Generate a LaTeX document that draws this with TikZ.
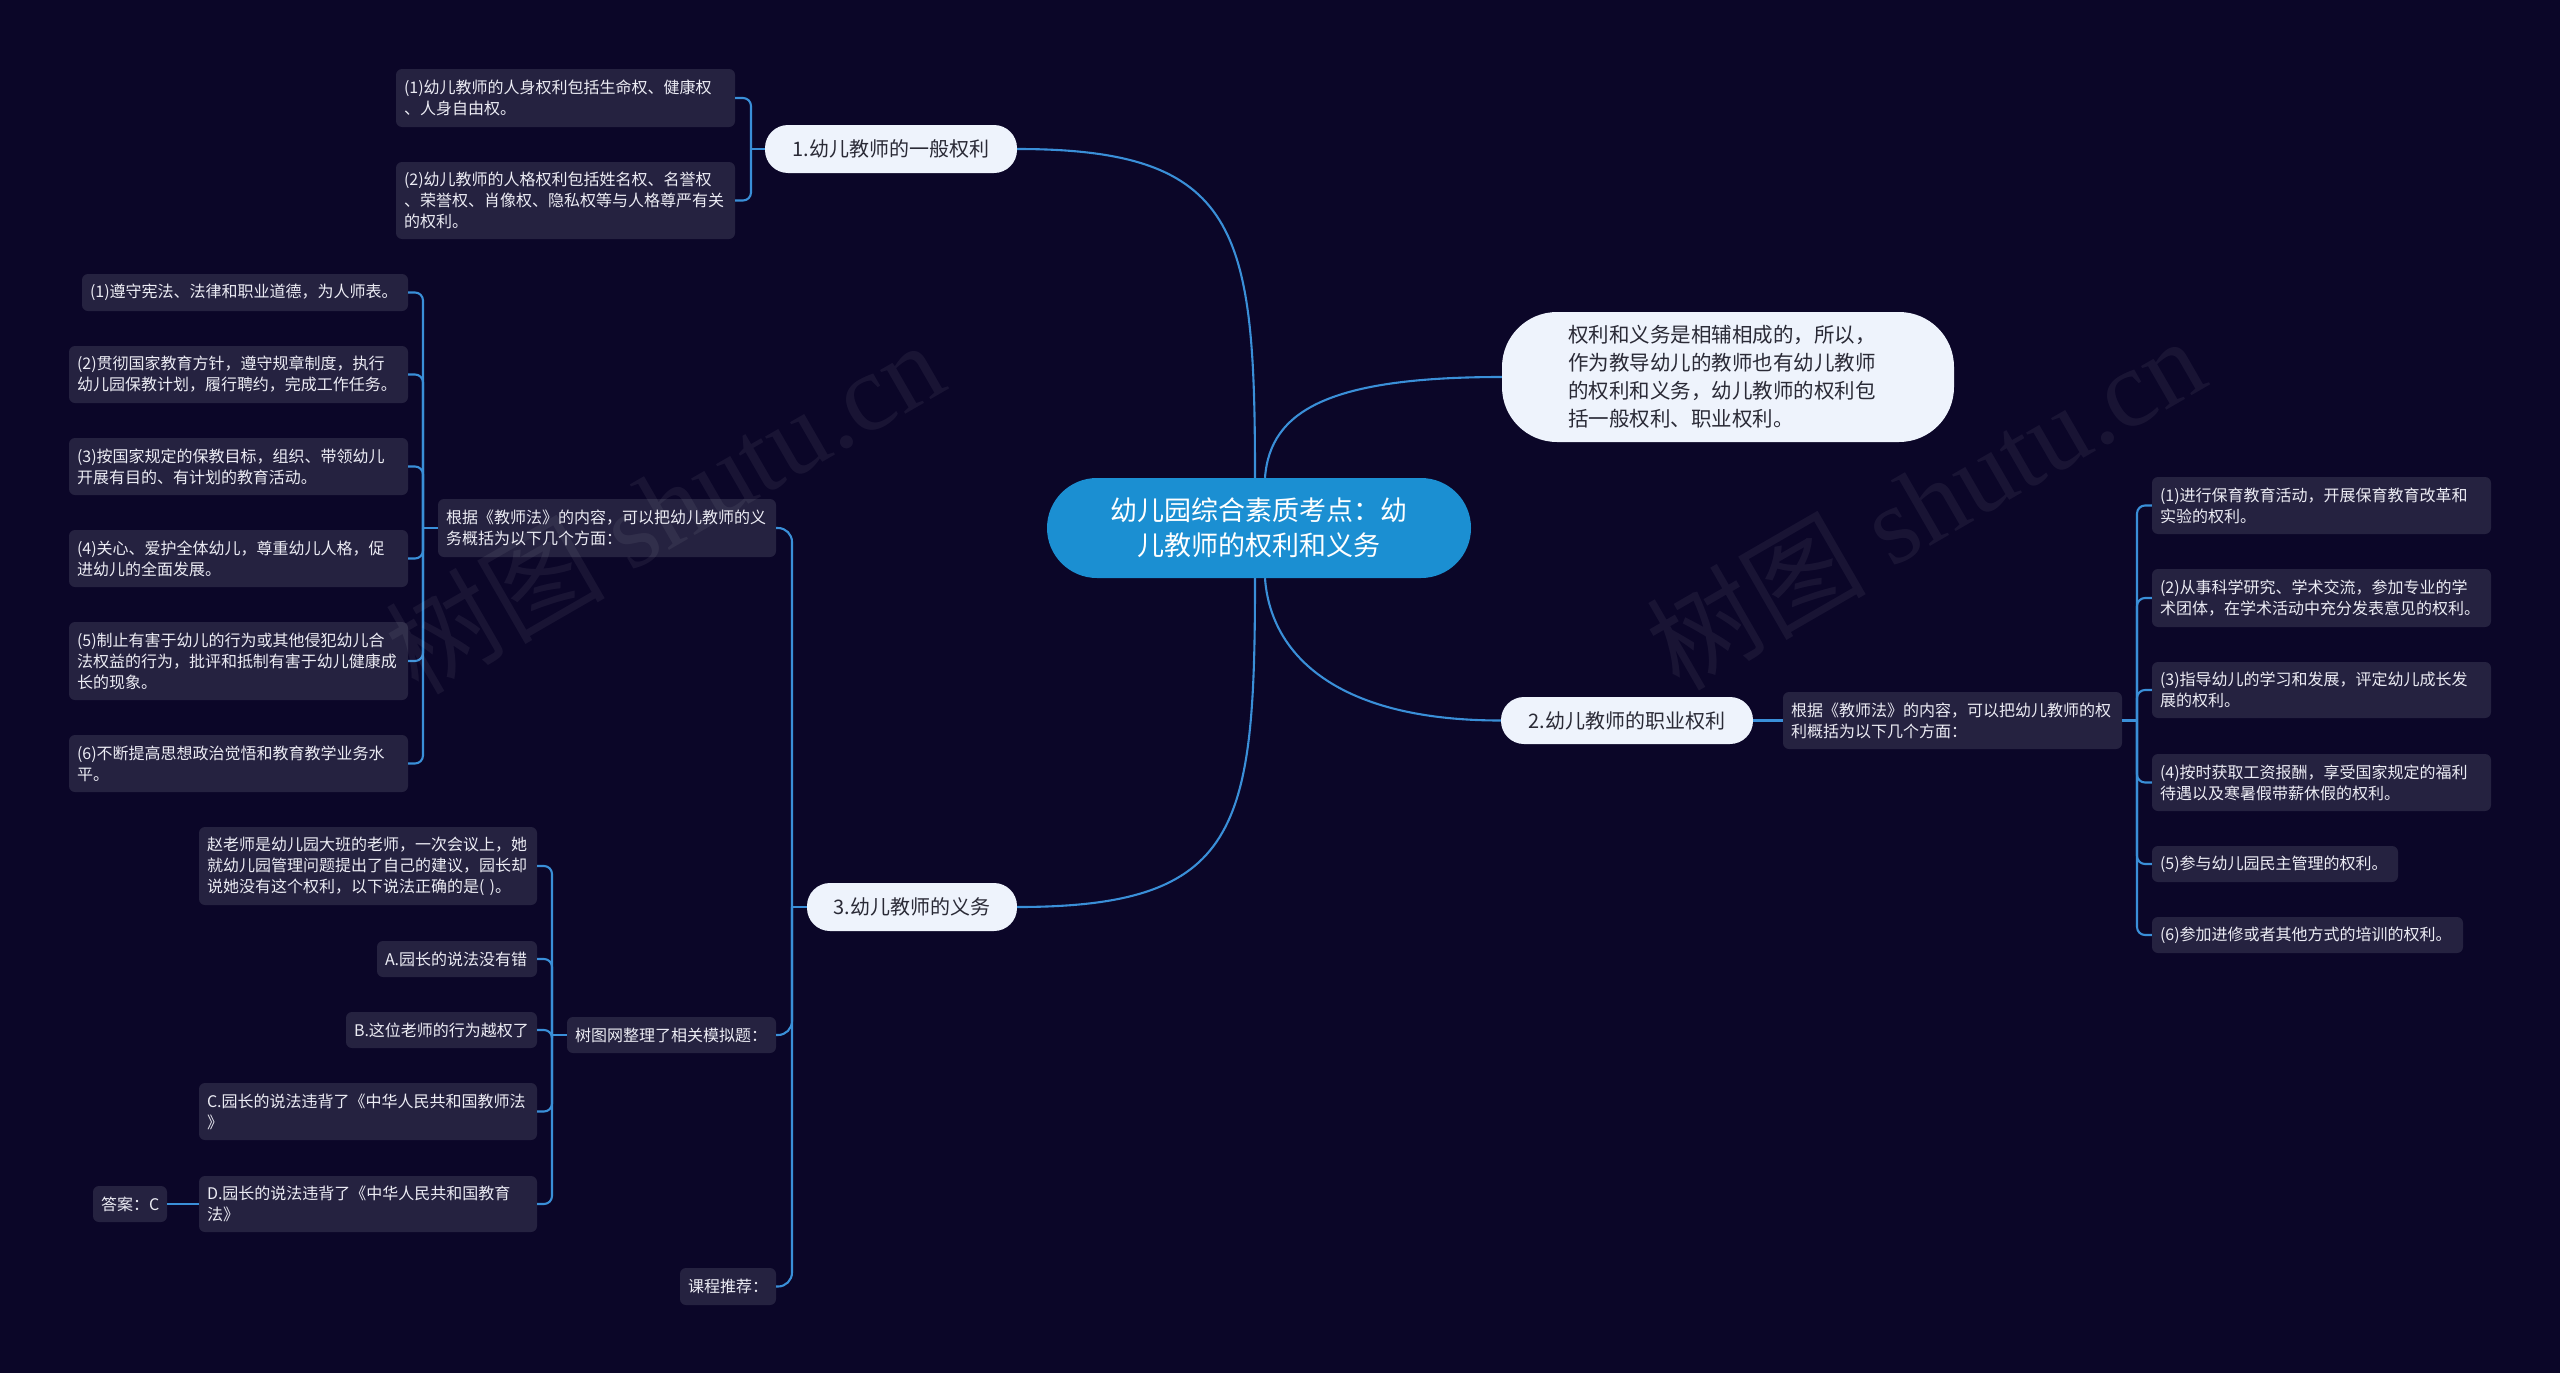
\documentclass[tikz,border=0pt]{standalone}
\usepackage{fontspec}
\setmainfont{Noto Sans CJK SC}
\newfontfamily\wmlatin{Liberation Serif}
\definecolor{bgc}{HTML}{0B0628}
\definecolor{leafc}{HTML}{252240}
\definecolor{linec}{HTML}{3A8FD8}
\definecolor{mainc}{HTML}{EEF3FC}
\definecolor{rootc}{HTML}{1B8FD2}
\definecolor{darktext}{HTML}{2A2A36}
\definecolor{leaftext}{HTML}{ECECF4}
\begin{document}
\begin{tikzpicture}[x=1pt,y=-1pt,
  leaf/.style={fill=leafc, rounded corners=6pt, text=leaftext, font=\fontsize{16}{21}\selectfont, align=left, inner xsep=8pt, inner ysep=0pt},
  lf/.style 2 args={leaf, text width=#1, minimum height=#2},
  mainnode/.style={fill=mainc, rounded corners=23pt, text=darktext, font=\fontsize{20}{26}\selectfont, align=center, inner sep=0pt},
  conn/.style={draw=linec, line width=2.1pt},
  bracelink/.style={conn, rounded corners=8pt},
  bigbrace/.style={conn, rounded corners=14pt},
  wmark/.style={rotate=30, text=white, text opacity=0.06, font=\fontsize{110}{110}\selectfont, inner sep=0pt}]
\fill[bgc] (0,0) rectangle (2560,1373);
\useasboundingbox (0,0) rectangle (2560,1373);

% root and first-level nodes
\node[fill=rootc, rounded corners=50pt, text=white, font=\fontsize{27}{35}\selectfont, align=center, minimum width=424pt, minimum height=100pt, inner sep=0pt] (root) at (1259,528) {幼儿园综合素质考点：幼\\儿教师的权利和义务};
\node[mainnode, minimum width=252pt, minimum height=48pt] (N1) at (891,149) {1.幼儿教师的一般权利};
\node[mainnode, minimum width=252pt, minimum height=47pt] (N2) at (1627,720.5) {2.幼儿教师的职业权利};
\node[mainnode, minimum width=210pt, minimum height=48pt] (N3) at (912,907) {3.幼儿教师的义务};
\node[fill=mainc, rounded corners=55pt, text=darktext, font=\fontsize{20.5}{28}\selectfont, align=left, text width=320pt, minimum width=452pt, minimum height=130pt, inner xsep=66pt, inner ysep=0pt] (desc) at (1728,377) {权利和义务是相辅相成的，所以，\\作为教导幼儿的教师也有幼儿教师\\的权利和义务，幼儿教师的权利包\\括一般权利、职业权利。};

% branch 1
\node[lf={323pt}{58pt}] (g1) at (565.5,98) {(1)幼儿教师的人身权利包括生命权、健康权\\、人身自由权。};
\node[lf={323pt}{77pt}] (g2) at (565.5,200.5) {(2)幼儿教师的人格权利包括姓名权、名誉权\\、荣誉权、肖像权、隐私权等与人格尊严有关\\的权利。};

% branch 2
\node[lf={323pt}{57pt}] (Phead) at (1952.5,720.5) {根据《教师法》的内容，可以把幼儿教师的权\\利概括为以下几个方面：};
\node[lf={323pt}{57pt}] (p1) at (2321.5,505.5) {(1)进行保育教育活动，开展保育教育改革和\\实验的权利。};
\node[lf={323pt}{58pt}] (p2) at (2321.5,598) {(2)从事科学研究、学术交流，参加专业的学\\术团体，在学术活动中充分发表意见的权利。};
\node[lf={323pt}{56pt}] (p3) at (2321.5,690) {(3)指导幼儿的学习和发展，评定幼儿成长发\\展的权利。};
\node[lf={323pt}{57pt}] (p4) at (2321.5,782.5) {(4)按时获取工资报酬，享受国家规定的福利\\待遇以及寒暑假带薪休假的权利。};
\node[lf={230pt}{36pt}] (p5) at (2275,864) {(5)参与幼儿园民主管理的权利。};
\node[lf={295pt}{36pt}] (p6) at (2307.5,935) {(6)参加进修或者其他方式的培训的权利。};

% branch 3
\node[lf={322pt}{58pt}] (Dhead) at (607,528) {根据《教师法》的内容，可以把幼儿教师的义\\务概括为以下几个方面：};
\node[lf={310pt}{37pt}] (d1) at (245,292.5) {(1)遵守宪法、法律和职业道德，为人师表。};
\node[lf={323pt}{57pt}] (d2) at (238.5,374.5) {(2)贯彻国家教育方针，遵守规章制度，执行\\幼儿园保教计划，履行聘约，完成工作任务。};
\node[lf={323pt}{57pt}] (d3) at (238.5,466.5) {(3)按国家规定的保教目标，组织、带领幼儿\\开展有目的、有计划的教育活动。};
\node[lf={323pt}{57pt}] (d4) at (238.5,558.5) {(4)关心、爱护全体幼儿，尊重幼儿人格，促\\进幼儿的全面发展。};
\node[lf={323pt}{78pt}] (d5) at (238.5,661) {(5)制止有害于幼儿的行为或其他侵犯幼儿合\\法权益的行为，批评和抵制有害于幼儿健康成\\长的现象。};
\node[lf={323pt}{57pt}] (d6) at (238.5,763.5) {(6)不断提高思想政治觉悟和教育教学业务水\\平。};

\node[lf={193pt}{36pt}] (Qhead) at (671.5,1035) {树图网整理了相关模拟题：};
\node[lf={322pt}{78pt}] (q0) at (368,866) {赵老师是幼儿园大班的老师，一次会议上，她\\就幼儿园管理问题提出了自己的建议，园长却\\说她没有这个权利，以下说法正确的是( )。};
\node[lf={144pt}{36pt}] (qA) at (457,959) {A.园长的说法没有错};
\node[lf={175pt}{36pt}] (qB) at (441.5,1030) {B.这位老师的行为越权了};
\node[lf={322pt}{57pt}] (qC) at (368,1111.5) {C.园长的说法违背了《中华人民共和国教师法\\》};
\node[lf={322pt}{56pt}] (qD) at (368,1204) {D.园长的说法违背了《中华人民共和国教育\\法》};
\node[lf={58pt}{36pt}] (Ans) at (130,1204) {答案：C};
\node[lf={80pt}{37pt}] (kc) at (728,1286.5) {课程推荐：};

% main curves from the root
\draw[conn] ([xshift=-4pt]root.north) .. controls (1255,230) and (1240,149) .. (N1.east);
\draw[conn] ([xshift=6pt]root.north) .. controls (1270,410) and (1330,377) .. (desc.west);
\draw[conn] ([xshift=6pt]root.south) .. controls (1270,650) and (1330,720.5) .. (N2.west);
\draw[conn] ([xshift=-4pt]root.south) .. controls (1255,830) and (1240,907) .. (N3.east);

% bracket joints
\coordinate (bN1) at (751,149);
\coordinate (bP) at (2137,720.5);
\coordinate (b3) at (792,907);
\coordinate (bD) at (423,528);
\coordinate (bQ) at (552,1035);

% branch 1 links
\draw[conn] (N1.west) -- (bN1);
\draw[bracelink] (bN1) |- (g1.east);
\draw[bracelink] (bN1) |- (g2.east);

% branch 2 links
\draw[conn] (N2.east) -- (Phead.west);
\draw[conn] (Phead.east) -- (bP);
\foreach \c in {p1,p2,p3,p4,p5,p6} \draw[bracelink] (bP) |- (\c.west);

% branch 3 links
\draw[conn] (N3.west) -- (b3);
\foreach \c in {Dhead,Qhead,kc} \draw[bigbrace] (b3) |- (\c.east);
\draw[conn] (Dhead.west) -- (bD);
\foreach \c in {d1,d2,d3,d4,d5,d6} \draw[bracelink] (bD) |- (\c.east);
\draw[conn] (Qhead.west) -- (bQ);
\foreach \c in {q0,qA,qB,qC,qD} \draw[bracelink] (bQ) |- (\c.east);
\draw[conn] (qD.west) -- (Ans.east);

% watermarks
\node[wmark] (wm1a) at (493,605) {树图};
\node[wmark] (wm1b) at (772,448) {\wmlatin shutu.cn};
\node[wmark] (wm2a) at (1754,601) {树图};
\node[wmark] (wm2b) at (2033,444) {\wmlatin shutu.cn};
\end{tikzpicture}
\end{document}
